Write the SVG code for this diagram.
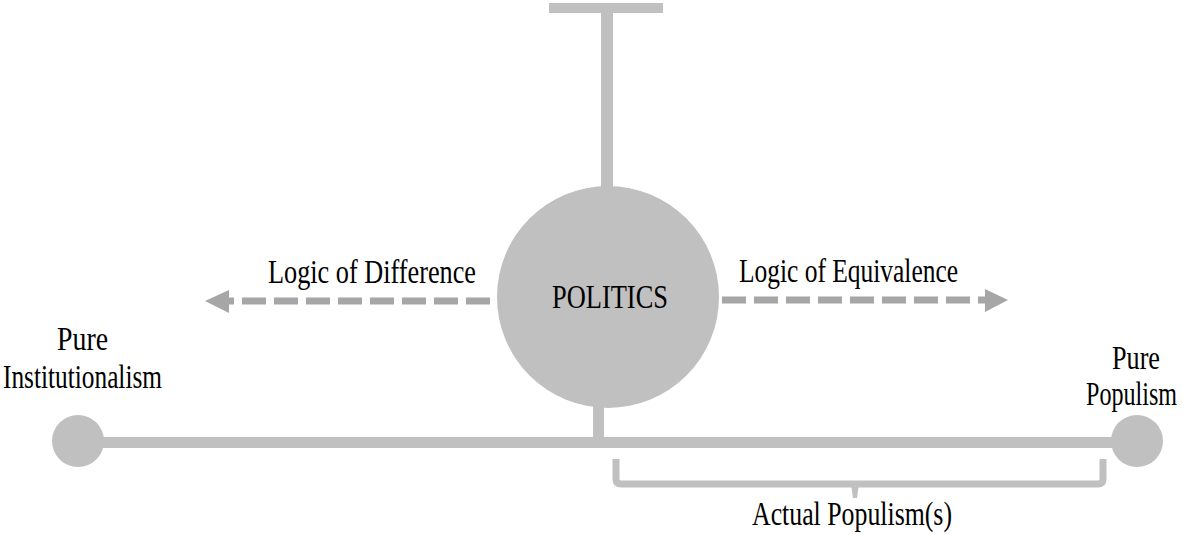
<svg xmlns="http://www.w3.org/2000/svg" width="1187" height="534" viewBox="0 0 1187 534">
<style>
.shape{fill:#c0c0c0}
.dash{stroke:#a6a6a6;stroke-width:7;stroke-dasharray:24 8;fill:none}
.head{fill:#a6a6a6}
.lbl{font-family:"Liberation Serif","Times New Roman",serif;font-size:33px;fill:#000}
.brk{fill:none;stroke:#c0c0c0;stroke-width:7;stroke-linejoin:round}
</style>
<rect width="1187" height="534" fill="#ffffff"/>
<g id="connectors">
  <rect class="shape" x="549" y="3" width="114" height="10"/>
  <rect class="shape" x="601" y="12" width="12" height="176"/>
  <rect class="shape" x="78" y="437" width="1059" height="11"/>
  <rect class="shape" x="593" y="400" width="11" height="48"/>
  <line class="dash" x1="490" y1="301" x2="229" y2="301"/>
  <polygon class="head" points="205,301 229,290 229,313"/>
  <line class="dash" x1="722" y1="300" x2="985" y2="300"/>
  <polygon class="head" points="1008,300 985,289 985,312"/>
  <path class="brk" d="M616,459 L616,479 Q616,484 621,484 L1098,484 Q1103,484 1103,479 L1103,459"/>
  <path class="shape" d="M851,484 L859,484 L857,498 L853,498 Z"/>
</g>
<g id="politics">
  <circle class="shape" cx="608" cy="297" r="111"/>
  <text class="lbl" x="552" y="308" textLength="116" lengthAdjust="spacingAndGlyphs" font-size="32">POLITICS</text>
</g>
<g id="logic-difference">
  <text class="lbl" x="268" y="283" textLength="208" lengthAdjust="spacingAndGlyphs">Logic of Difference</text>
</g>
<g id="logic-equivalence">
  <text class="lbl" x="739" y="282" textLength="219" lengthAdjust="spacingAndGlyphs">Logic of Equivalence</text>
</g>
<g id="pure-institutionalism">
  <circle class="shape" cx="78" cy="441" r="26"/>
  <text class="lbl" x="57" y="350" textLength="51" lengthAdjust="spacingAndGlyphs" font-size="30">Pure</text>
  <text class="lbl" x="3" y="388" textLength="159" lengthAdjust="spacingAndGlyphs" font-size="30">Institutionalism</text>
</g>
<g id="pure-populism">
  <circle class="shape" cx="1137" cy="441" r="26"/>
  <text class="lbl" x="1112" y="369" textLength="48" lengthAdjust="spacingAndGlyphs">Pure</text>
  <text class="lbl" x="1086" y="405" textLength="91" lengthAdjust="spacingAndGlyphs">Populism</text>
</g>
<g id="actual-populism">
  <text class="lbl" x="752" y="525" textLength="200" lengthAdjust="spacingAndGlyphs">Actual Populism(s)</text>
</g>
</svg>
